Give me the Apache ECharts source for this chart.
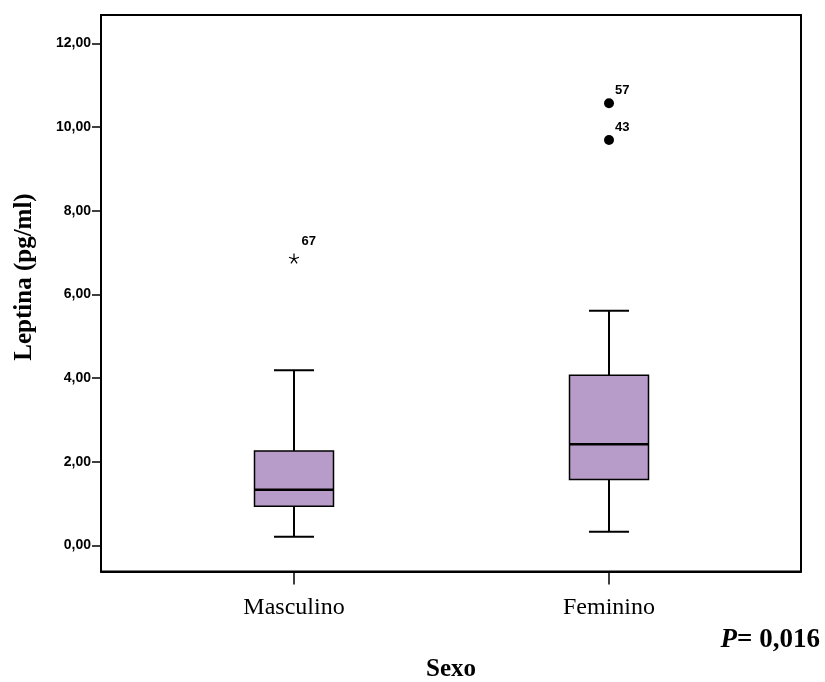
<!DOCTYPE html>
<html>
<head>
<meta charset="utf-8">
<script src="https://cdn.jsdelivr.net/npm/echarts@6/dist/echarts.min.js"></script>
<style>html,body{margin:0;padding:0;background:#fff;}#c{width:825px;height:682px;}</style>
</head>
<body>
<div id="c"></div>
<script>
// ---- data ----
const categories = ['Masculino', 'Feminino'];
const categoryPos = [1, 2];
// [lower whisker, Q1, median, Q3, upper whisker]
const boxMasculino = [0.21, 0.94, 1.33, 2.26, 4.19];
const boxFeminino = [0.33, 1.58, 2.42, 4.07, 5.61];
const outlierFemininoValues = [10.57, 9.69];
const outlierFemininoIds = ['57', '43'];
const extremeMasculinoValues = [6.86];
const extremeMasculinoIds = ['67'];
const yTicks = [0, 2, 4, 6, 8, 10, 12];
const pLabel = '= 0,016';

// ---- build ----
const boxData = [
  [categoryPos[0]].concat(boxMasculino),
  [categoryPos[1]].concat(boxFeminino)
];
const femOut = outlierFemininoValues.map((v, i) => [categoryPos[1], v, outlierFemininoIds[i]]);
const masExt = extremeMasculinoValues.map((v, i) => [categoryPos[0], v, extremeMasculinoIds[i]]);

const chart = echarts.init(document.getElementById('c'), null, {renderer: 'canvas'});
const serif = '"Liberation Serif", "Times New Roman", serif';
const sans = '"Liberation Sans", Arial, sans-serif';

const outlierLabel = {
  show: true,
  position: ['100%', 0],
  align: 'left',
  verticalAlign: 'bottom',
  offset: [1, -1],
  formatter: p => p.value[2],
  color: '#000',
  opacity: 1,
  fontFamily: sans,
  fontWeight: 'bold',
  fontSize: 13
};

chart.setOption({
  animation: false,
  backgroundColor: '#fff',
  grid: {left: 101, right: 24, top: 15, bottom: 110.5, outerBoundsMode: 'none', containLabel: false,
    show: true, borderColor: '#000', borderWidth: 2, backgroundColor: 'transparent'},
  xAxis: {
    type: 'value',
    min: 0.3873,
    max: 2.6095,
    splitLine: {show: false},
    axisLine: {show: true, onZero: false, lineStyle: {color: '#000', width: 2}},
    axisTick: {show: true, customValues: categoryPos, length: 13, lineStyle: {color: '#000', width: 1.5}},
    axisLabel: {
      customValues: categoryPos,
      formatter: v => categories[categoryPos.indexOf(Math.round(v))] || '',
      color: '#000', fontFamily: serif, fontSize: 24, margin: 24
    },
    name: 'Sexo',
    nameLocation: 'middle',
    nameGap: 86,
    nameTextStyle: {color: '#000', fontFamily: serif, fontWeight: 'bold', fontSize: 25}
  },
  yAxis: {
    type: 'value',
    min: -0.621,
    max: 12.677,
    splitLine: {show: false},
    axisLine: {show: true, onZero: false, lineStyle: {color: '#000', width: 2}},
    axisTick: {show: true, customValues: yTicks, length: 9, lineStyle: {color: '#000', width: 1.5}},
    axisLabel: {
      customValues: yTicks,
      formatter: v => v.toFixed(2).replace('.', ','),
      color: '#000', fontFamily: sans, fontWeight: 'bold', fontSize: 14, margin: 10
    }
  },
  graphic: [
    {
      type: 'text',
      x: 25, y: 277,
      rotation: Math.PI / 2,
      style: {
        text: 'Leptina (pg/ml)',
        fill: '#000',
        font: 'bold 25px ' + serif,
        align: 'center',
        verticalAlign: 'middle'
      }
    },
    {
      type: 'text',
      right: 5,
      top: 627,
      style: {
        text: '{i|P}{b|' + pLabel + '}',
        rich: {
          i: {fontFamily: serif, fontWeight: 'bold', fontStyle: 'italic', fontSize: 27, fill: '#000'},
          b: {fontFamily: serif, fontWeight: 'bold', fontSize: 27, fill: '#000'}
        }
      }
    }
  ],
  series: [
    {
      type: 'custom',
      data: boxData,
      encode: {x: 0, y: [1, 2, 3, 4, 5]},
      z: 2,
      renderItem: function (params, api) {
        const x = api.value(0);
        const pt = k => api.coord([x, api.value(k)]);
        const lo = pt(1), q1 = pt(2), md = pt(3), q3 = pt(4), hi = pt(5);
        const cx = lo[0];
        const bw = 79, cw = 40;
        const line = (x1, y1, x2, y2, w) => ({type: 'line', shape: {x1, y1, x2, y2}, style: {stroke: '#000', lineWidth: w}});
        return {
          type: 'group',
          children: [
            line(cx, hi[1], cx, q3[1], 2),
            line(cx, q1[1], cx, lo[1], 2),
            line(cx - cw / 2, hi[1], cx + cw / 2, hi[1], 2),
            line(cx - cw / 2, lo[1], cx + cw / 2, lo[1], 2),
            {type: 'rect', shape: {x: cx - bw / 2, y: q3[1], width: bw, height: q1[1] - q3[1]},
              style: {fill: '#b79bc8', stroke: '#000', lineWidth: 1.5}},
            line(cx - bw / 2, md[1], cx + bw / 2, md[1], 2.5)
          ]
        };
      }
    },
    {
      type: 'scatter',
      data: femOut,
      symbol: 'circle',
      symbolSize: 10,
      itemStyle: {color: '#000', opacity: 1},
      label: outlierLabel,
      z: 3
    },
    {
      type: 'scatter',
      data: masExt,
      symbol: 'path://M0,0 L0,-5 M0,0 L4.76,-1.55 M0,0 L2.94,4.05 M0,0 L-2.94,4.05 M0,0 L-4.76,-1.55',
      symbolSize: 10,
      itemStyle: {color: 'none', borderColor: '#000', borderWidth: 1.2, opacity: 1},
      label: Object.assign({}, outlierLabel, {offset: [0, -3]}),
      z: 3
    }
  ]
});
</script>
</body>
</html>
